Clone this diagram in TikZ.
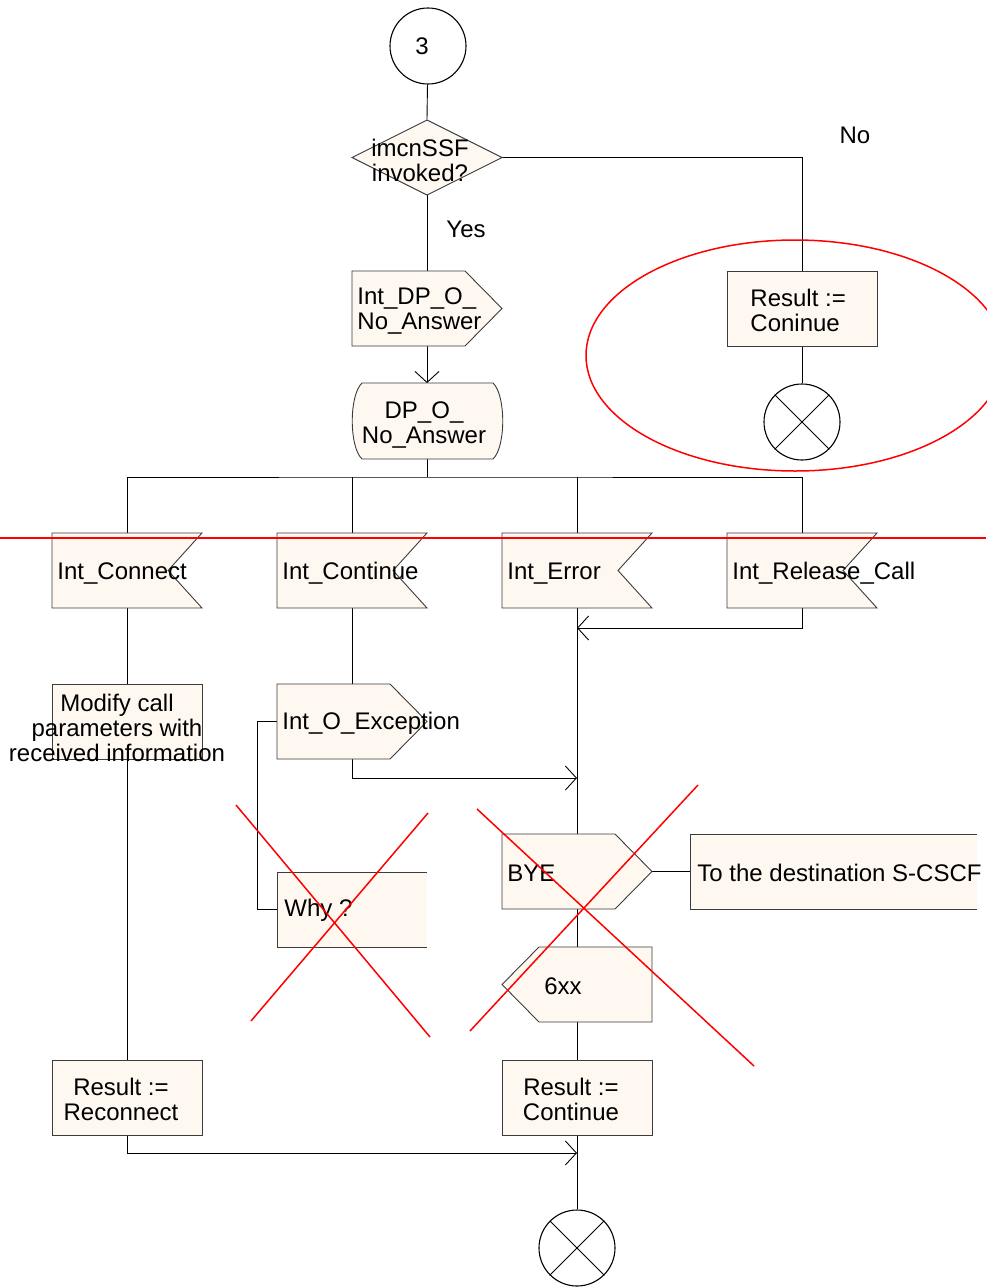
\documentclass[tikz,border=0pt]{standalone}
\usepackage{fontspec}
\setmainfont{Liberation Sans}
\usetikzlibrary{arrows.meta,calc}
\definecolor{cream}{HTML}{FEF8F0}
\definecolor{edge}{HTML}{3C3C3C}
\newcommand\OutShape[2]{\filldraw[box] (#1,#2) -- ++(113,0) -- ++(37,37.5) -- ++(-37,37.5) -- ++(-113,0) -- cycle;}
\newcommand\InShape[2]{\filldraw[box] (#1,#2) -- ++(150,0) -- ++(-34,37.5) -- ++(34,37.5) -- ++(-150,0) -- cycle;}
\newcommand\PlainBox[2]{\filldraw[box] (#1,#2) rectangle ++(150,75);}
\begin{document}
\begin{tikzpicture}[x=1pt,y=-1pt,
  line width=0.9pt,
  box/.style={draw=edge, fill=cream, line width=0.9pt},
  frame/.style={rectangle, inner sep=0pt, minimum width=150pt, minimum height=75pt},
  lbl/.style={font=\fontsize{24}{25}\selectfont, inner sep=0pt, align=left},
  clbl/.style={font=\fontsize{24}{25}\selectfont, inner sep=0pt, align=center},
  conn/.style={draw=black, line width=0.9pt},
  arr/.style={conn, -{Straight Barb[length=11pt,width=24pt]}},
  cross/.style={draw=red, line width=1.5pt},
  stopc/.style={circle, draw=black, line width=1.1pt, minimum size=76pt, inner sep=0pt, fill=white},
]
\useasboundingbox (0,0) rectangle (986,1288);

% ---------- frames (named nodes) ----------
\node[frame] (dia)   at (427,157.5) {};
\node[frame] (dpout) at (427,308.5) {};
\node[frame] (dpin)  at (427,421) {};
\node[frame] (rcon)  at (802,308.5) {};
\node[frame] (conn)  at (127,570.5) {};
\node[frame] (cont)  at (352,570.5) {};
\node[frame] (err)   at (577,570.5) {};
\node[frame] (rel)   at (802,570.5) {};
\node[frame] (mod)   at (127,721.5) {};
\node[frame] (oexc)  at (352,721.5) {};
\node[frame] (why)   at (352,909.5) {};
\node[frame] (bye)   at (577,871.5) {};
\node[frame, minimum width=287pt] (dest) at (833.5,871.5) {};
\node[frame] (sxx)   at (577,984.5) {};
\node[frame] (rrec)  at (127,1097.5) {};
\node[frame] (rcnt)  at (577,1097.5) {};
\coordinate (bus) at (427,477);
\coordinate (j1) at (577,628);
\coordinate (j2) at (577,778);
\coordinate (j3) at (577,1153);

% ---------- connectors ----------
\node[stopc] (c3) at (428,46) {};
\node[clbl] (t3) at (422,46) {3};
\draw[conn] (c3) -- (dia.north);
\draw[conn] (dia.east) -| (rcon.north);
\draw[conn] (dia.south) -- (dpout.north);
\draw[arr] (dpout.south) -- (dpin.north);
\draw[conn] (dpin.south) -- (bus);
\draw[conn] (conn.north) |- (bus) -| (rel.north);
\draw[conn] (cont.north) -- (cont.north |- bus);
\draw[conn] (err.north) -- (err.north |- bus);
\draw[arr] (rel.south) |- (j1);
\draw[conn] (err.south) -- (bye.north);
\draw[conn] (conn.south) -- (mod.north);
\draw[conn] (mod.south) -- (rrec.north);
\draw[conn] (cont.south) -- (oexc.north);
\draw[arr] (oexc.south) |- (j2);
\draw[conn] (oexc.west) -- ++(-19,0) |- (why.west);
\draw[conn] (bye.east) -- (dest.west);
\draw[conn] (bye.south) -- (sxx.north);
\draw[conn] (sxx.south) -- (rcnt.north);
\draw[arr] (rrec.south) |- (j3);
\node[stopc] (end1) at (802,422) {};
\node[stopc] (end2) at (577,1248) {};
\draw[conn] (rcon.south) -- (end1.north);
\draw[conn] (rcnt.south) -- (end2.north);
\draw[conn, line width=0.8pt] (end1.north west) -- (end1.south east) (end1.north east) -- (end1.south west);
\draw[conn, line width=0.8pt] (end2.north west) -- (end2.south east) (end2.north east) -- (end2.south west);

% ---------- shapes ----------
\filldraw[box] (352,157.5) -- (427,120) -- (502,157.5) -- (427,195) -- cycle;
\OutShape{352}{271}
\filldraw[box] (362,383) -- (493,383) .. controls (506,395) and (506,447) .. (493,459) -- (362,459) .. controls (349,447) and (349,395) .. (362,383) -- cycle;
\PlainBox{727}{271}
\InShape{52}{533}
\InShape{277}{533}
\InShape{502}{533}
\InShape{727}{533}
\PlainBox{52}{684}
\OutShape{277}{684}
\fill[cream] (277,872) rectangle (427,947);
\draw[edge] (427,872) -- (277,872) -- (277,947) -- (427,947);
\OutShape{502}{834}
\fill[cream] (690,834) rectangle (977,909);
\draw[edge] (977,834) -- (690,834) -- (690,909) -- (977,909);
\filldraw[box] (539,947) -- (652,947) -- (652,1022) -- (539,1022) -- (502,984.5) -- cycle;
\PlainBox{52}{1060}
\PlainBox{502}{1060}

% ---------- texts ----------
\node[clbl] (tdia) at (420,160) {imcnSSF\\invoked?};
\node[lbl] (tno) at (855,135) {No};
\node[lbl] (tyes) at (466,229) {Yes};
\node[lbl, anchor=west] (tdpout) at (357,311) {Int\_DP\_O\_\\No\_Answer};
\node[clbl] (tdpin) at (424,425) {DP\_O\_\\No\_Answer};
\node[lbl, anchor=west] (trcon) at (750,310) {Result :=\\Coninue};
\node[lbl, anchor=west] (tconn) at (57,573) {Int\_Connect};
\node[lbl, anchor=west] (tcont) at (282,573) {Int\_Continue};
\node[lbl, anchor=west] (terr) at (507,574) {Int\_Error};
\node[lbl, anchor=west] (trel) at (732,573) {Int\_Release\_Call};
\node[clbl] (tmod) at (117,728) {Modify call\\parameters with\\received information};
\node[lbl, anchor=west] (toexc) at (282,723) {Int\_O\_Exception};
\node[lbl, anchor=west] (twhy) at (284,910) {Why ?};
\node[lbl, anchor=west] (tbye) at (507,873) {BYE};
\node[lbl, anchor=west] (tdest) at (697,873) {To the destination S-CSCF};
\node[lbl] (tsxx) at (563,986) {6xx};
\node[clbl] (trrec) at (121,1099) {Result :=\\Reconnect};
\node[clbl] (trcnt) at (571,1099) {Result :=\\Continue};

% ---------- red annotations ----------
\draw[cross] (795,355.5) ellipse [x radius=209, y radius=115.5];
\draw[cross] (0,538) -- (986,538);
\draw[cross] (236,805) -- (430,1037);
\draw[cross] (428,813) -- (251,1021);
\draw[cross] (477,809) -- (754,1066);
\draw[cross] (698,785) -- (470,1031);
\end{tikzpicture}
\end{document}
